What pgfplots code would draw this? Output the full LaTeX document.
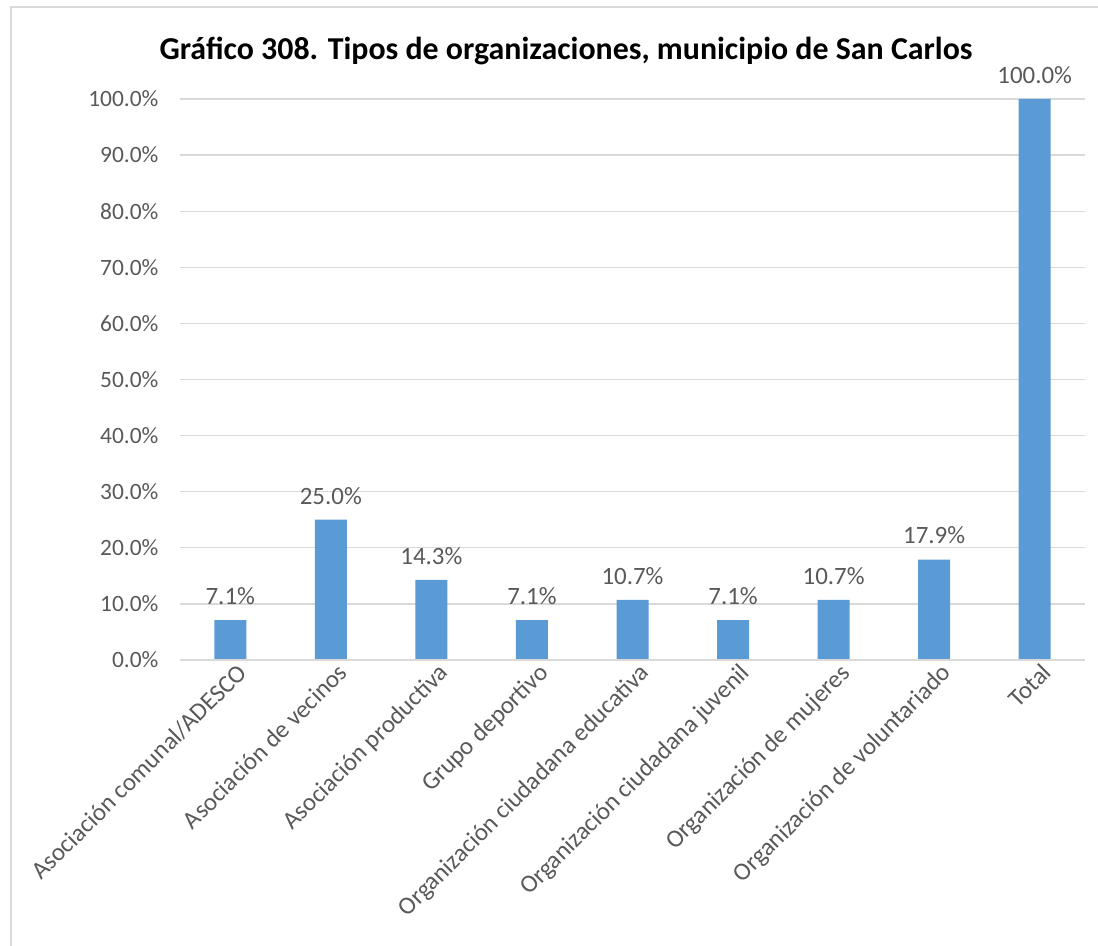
\documentclass[border=0pt]{standalone}
\usepackage{pgfplots}
\pgfplotsset{compat=1.18}
\usepackage{fontspec}
\setmainfont{Carlito}
\definecolor{barblue}{HTML}{5B9BD5}
\definecolor{txtgray}{HTML}{595959}
\definecolor{gridgray}{HTML}{D9D9D9}
\begin{document}
\begin{tikzpicture}[x=1bp,y=1bp]
  \path[use as bounding box] (0,0) rectangle (1098,946);
  \draw[gridgray, line width=2bp] (11,0) -- (11,939) -- (1098,939);
  \node[font=\fontsize{32}{38}\selectfont\bfseries] at (566,895)
    {Gráfico 308. Tipos de organizaciones, municipio de San Carlos};
  \begin{axis}[
    at={(180bp,286bp)}, anchor=south west,
    scale only axis, width=905bp, height=561bp,
    xmin=-0.5, xmax=8.5, ymin=0, ymax=100,
    ybar, bar width=32bp,
    xtick={0,...,8},
    xticklabels={Asociación comunal/ADESCO, Asociación de vecinos, Asociación productiva,
      Grupo deportivo, Organización ciudadana educativa, Organización ciudadana juvenil,
      Organización de mujeres, Organización de voluntariado, Total},
    ytick={0,10,...,100},
    yticklabel={\pgfmathprintnumber[fixed,fixed zerofill,precision=1]{\tick}\%},
    /pgf/number format/assume math mode=true,
    ymajorgrids, grid style={gridgray, line width=1.3bp},
    axis line style={draw=none},
    major tick length=0pt,
    yticklabel style={font=\fontsize{23.5}{28}\selectfont, text=txtgray, xshift=-18bp},
    xticklabel style={font=\fontsize{25}{30}\selectfont, text=txtgray,
      rotate=45, anchor=north east, xshift=6bp, yshift=-2bp},
    nodes near coords={\pgfmathprintnumber[fixed,fixed zerofill,precision=1]{\pgfplotspointmeta}\%},
    every node near coord/.append style={font=\fontsize{25}{30}\selectfont, text=txtgray, yshift=12bp},
    clip=false,
  ]
    \addplot[fill=barblue, draw=none] coordinates {
      (0,7.1) (1,25.0) (2,14.3) (3,7.1) (4,10.7) (5,7.1) (6,10.7) (7,17.9) (8,100.0)
    };
    \draw[gridgray, line width=1.5bp] (axis cs:-0.5,0) -- (axis cs:8.5,0);
  \end{axis}
\end{tikzpicture}
\end{document}
